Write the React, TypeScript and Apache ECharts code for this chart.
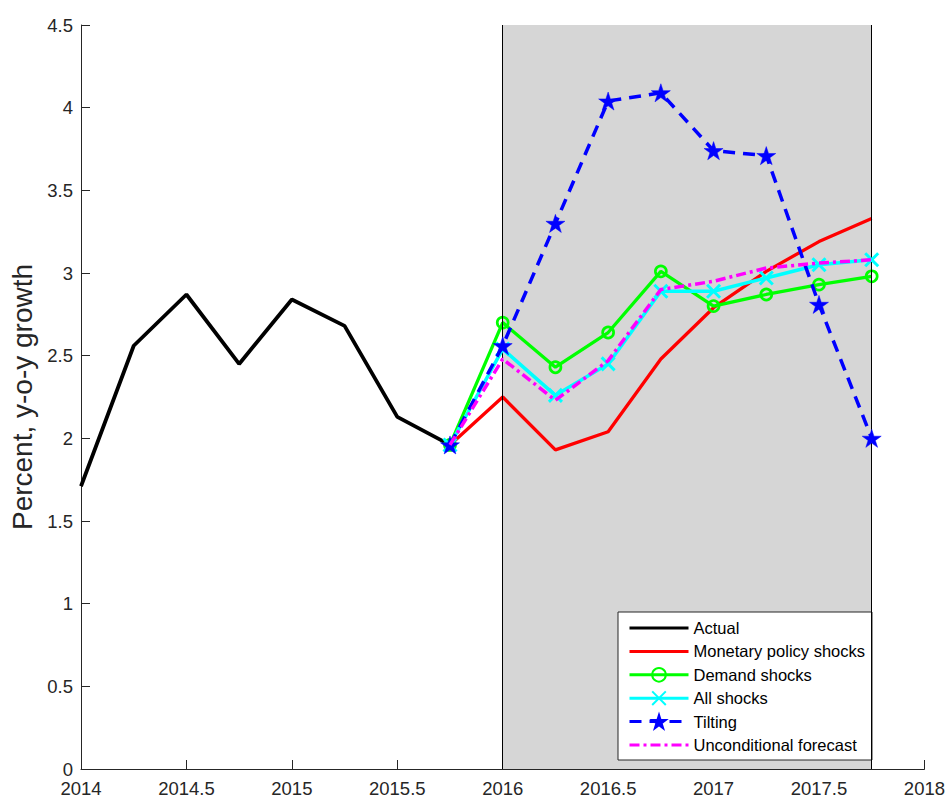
import React, { useEffect, useRef } from "react";
import * as echarts from "echarts";

const actualX = [2014, 2014.25, 2014.5, 2014.75, 2015, 2015.25, 2015.5, 2015.75];
const actualY = [1.71, 2.56, 2.87, 2.45, 2.84, 2.68, 2.13, 1.96];

const forecastX = [2015.75, 2016, 2016.25, 2016.5, 2016.75, 2017, 2017.25, 2017.5, 2017.75];
const monetaryY = [1.96, 2.25, 1.93, 2.04, 2.48, 2.79, 3.01, 3.19, 3.33];
const demandY = [1.96, 2.7, 2.43, 2.64, 3.01, 2.8, 2.87, 2.93, 2.98];
const allShocksY = [1.96, 2.54, 2.26, 2.45, 2.89, 2.89, 2.97, 3.05, 3.08];
const tiltingY = [1.96, 2.56, 3.3, 4.04, 4.09, 3.74, 3.71, 2.81, 2.0];
const unconditionalY = [1.96, 2.48, 2.23, 2.47, 2.9, 2.95, 3.03, 3.06, 3.08];

const shadeRange = [2016, 2017.75];
const seriesNames = [
  "Actual",
  "Monetary policy shocks",
  "Demand shocks",
  "All shocks",
  "Tilting",
  "Unconditional forecast",
];
const noMarker = ["Actual", "Monetary policy shocks", "Unconditional forecast"];

const FONT = "Liberation Sans, Arial, Helvetica, sans-serif";
const STAR =
  "path://M50,0 L61.23,34.55 L97.55,34.55 L68.17,55.9 L79.39,90.45 L50,69.1 L20.61,90.45 L31.83,55.9 L2.45,34.55 L38.77,34.55 Z";
const CROSS = "path://M0,0 L10,10 M10,0 L0,10";

const zip = (xs: number[], ys: number[]) => xs.map((x, i) => [x, ys[i]]);

export default function App() {
  const ref = useRef<HTMLDivElement>(null);
  useEffect(() => {
    if (!ref.current) return;
    const chart = echarts.init(ref.current, null, { renderer: "svg" });
    const axisColor = "#262626";
    chart.setOption({
      animation: false,
      backgroundColor: "#ffffff",
      grid: { left: 81, top: 25, right: 22, bottom: 28, containLabel: false },
      legend: {
        data: seriesNames.map((n) =>
          noMarker.includes(n)
            ? {
                name: n,
                itemStyle: { color: "transparent", borderColor: "transparent", opacity: 0 },
                lineStyle: { width: 3 },
              }
            : { name: n, lineStyle: { width: 3 } }
        ),
        orient: "vertical",
        left: 618,
        top: 612,
        itemWidth: 59,
        itemHeight: 17,
        itemGap: 6.4,
        padding: [7.5, 7, 6.5, 10],
        backgroundColor: "#ffffff",
        borderColor: axisColor,
        borderWidth: 1,
        borderRadius: 0,
        textStyle: { fontFamily: FONT, fontSize: 16.5, color: "#000", lineHeight: 17 },
      },
      xAxis: {
        type: "value",
        min: 2014,
        max: 2018,
        interval: 0.5,
        axisLine: { show: true, lineStyle: { color: axisColor, width: 1 } },
        axisTick: { show: true, inside: true, length: 9, lineStyle: { color: axisColor } },
        axisLabel: {
          margin: 10,
          fontFamily: FONT,
          fontSize: 18.5,
          color: axisColor,
          formatter: (v: number) => String(v),
        },
        splitLine: { show: false },
      },
      yAxis: {
        type: "value",
        min: 0,
        max: 4.5,
        interval: 0.5,
        name: "Percent, y-o-y growth",
        nameLocation: "middle",
        nameGap: 33,
        nameTextStyle: { fontFamily: FONT, fontSize: 28, color: axisColor },
        axisLine: { show: true, lineStyle: { color: axisColor, width: 1 } },
        axisTick: { show: true, inside: true, length: 9, lineStyle: { color: axisColor } },
        axisLabel: {
          margin: 8,
          fontFamily: FONT,
          fontSize: 18.5,
          color: axisColor,
          formatter: (v: number) => String(v),
        },
        splitLine: { show: false },
      },
      series: [
        {
          name: "Actual",
          type: "line",
          z: 2,
          data: zip(actualX, actualY),
          symbol: "none",
          lineStyle: { color: "#000000", width: 3.8 },
          itemStyle: { color: "#000000" },
          markArea: {
            silent: true,
            itemStyle: { color: "#d6d6d6", opacity: 1 },
            data: [[{ xAxis: shadeRange[0] }, { xAxis: shadeRange[1] }]],
          },
          markLine: {
            silent: true,
            symbol: ["none", "none"],
            label: { show: false },
            lineStyle: { color: "#000000", width: 1, type: "solid" },
            data: [{ xAxis: shadeRange[0] }, { xAxis: shadeRange[1] }],
          },
        },
        {
          name: "Monetary policy shocks",
          type: "line",
          z: 3,
          data: zip(forecastX, monetaryY),
          symbol: "none",
          lineStyle: { color: "#ff0000", width: 3.3 },
          itemStyle: { color: "#ff0000" },
        },
        {
          name: "Demand shocks",
          type: "line",
          z: 4,
          data: zip(forecastX, demandY),
          symbol: "circle",
          symbolSize: 11,
          lineStyle: { color: "#00ff00", width: 3.3 },
          itemStyle: { color: "transparent", borderColor: "#00ff00", borderWidth: 2.7 },
        },
        {
          name: "All shocks",
          type: "line",
          z: 5,
          data: zip(forecastX, allShocksY),
          symbol: CROSS,
          symbolSize: 13,
          lineStyle: { color: "#00ffff", width: 3.5 },
          itemStyle: { color: "#00ffff", borderColor: "#00ffff", borderWidth: 3 },
        },
        {
          name: "Tilting",
          type: "line",
          z: 6,
          data: zip(forecastX, tiltingY),
          symbol: STAR,
          symbolSize: 19,
          symbolKeepAspect: true,
          lineStyle: { color: "#0000ff", width: 3.5, type: [12, 8] },
          itemStyle: { color: "#0000ff", borderColor: "#0000ff", borderWidth: 0.5 },
        },
        {
          name: "Unconditional forecast",
          type: "line",
          z: 7,
          data: zip(forecastX, unconditionalY),
          symbol: "none",
          lineStyle: { color: "#ff00ff", width: 3.5, type: [10, 4, 3, 4] },
          itemStyle: { color: "#ff00ff" },
        },
      ],
    });
    return () => chart.dispose();
  }, []);
  return (
    <div
      ref={ref}
      style={{ position: "fixed", left: 0, top: 0, width: 948, height: 798, background: "#fff" }}
    />
  );
}
